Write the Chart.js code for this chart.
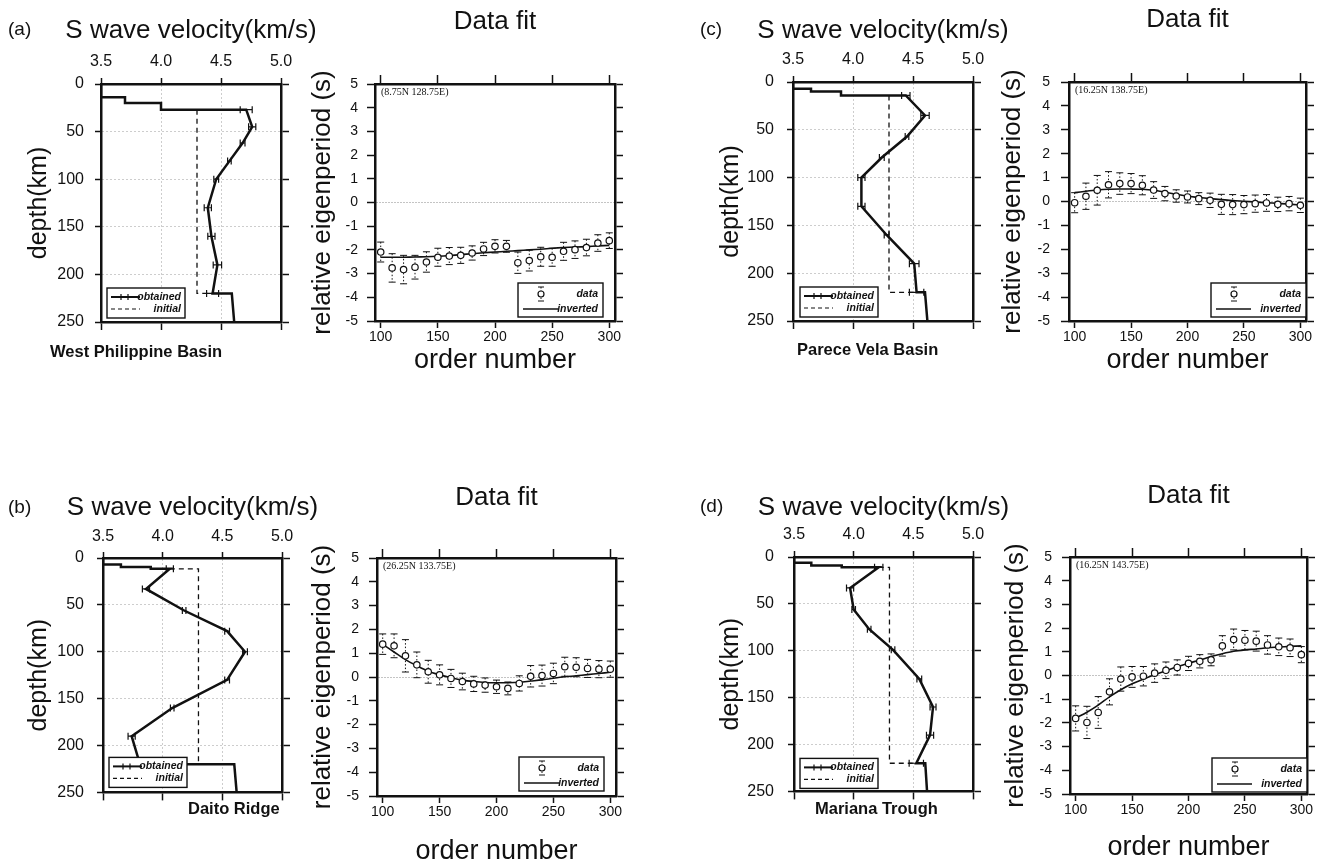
<!DOCTYPE html>
<html><head><meta charset="utf-8">
<script src="https://cdn.jsdelivr.net/npm/chart.js@4.4.1/dist/chart.umd.min.js"></script>
<style>
html,body{margin:0;padding:0;background:#fff;}
#wrap{position:relative;width:1329px;height:861px;overflow:hidden;background:#fff;font-family:"Liberation Sans",Arial,Helvetica,sans-serif;}
#wrap canvas{position:absolute;}
.lbl{position:absolute;white-space:nowrap;color:#111;}
</style></head><body><div id="wrap"></div>
<script>
// ================= DATA =================
const velTicks = [3.5, 4.0, 4.5, 5.0];
const depthTicks = [0, 50, 100, 150, 200, 250];
const orderTicks = [100, 150, 200, 250, 300];
const periodTicks = [-5, -4, -3, -2, -1, 0, 1, 2, 3, 4, 5];
const orderNumbers = [100,110,120,130,140,150,160,170,180,190,200,210,220,230,240,250,260,270,280,290,300];

// (a) West Philippine Basin
const aCrustDepth = [0, 14, 14, 20, 20, 27];
const aCrustVel   = [3.5, 3.5, 3.7, 3.7, 4.0, 4.0];
const aNodeDepth  = [27, 45, 62, 81, 100, 130, 160, 190, 220];
const aNodeVel    = [4.71, 4.76, 4.68, 4.57, 4.46, 4.39, 4.42, 4.47, 4.43];
const aNodeErr    = [0.05, 0.03, 0.02, 0.015, 0.02, 0.03, 0.03, 0.035, 0.05];
const aBaseDepth  = [220, 250];
const aBaseVel    = [4.59, 4.61];
const aInitDepth  = [27, 220, 220];
const aInitVel    = [4.3, 4.3, 4.43];
const aFitData = [-2.09,-2.76,-2.83,-2.73,-2.51,-2.31,-2.26,-2.23,-2.13,-1.96,-1.85,-1.85,-2.54,-2.45,-2.29,-2.31,-2.06,-1.99,-1.90,-1.71,-1.61];
const aFitErr  = [0.42,0.60,0.60,0.50,0.43,0.38,0.36,0.34,0.30,0.28,0.28,0.25,0.45,0.44,0.40,0.38,0.38,0.37,0.35,0.35,0.33];
const aFitInv  = [-2.31,-2.31,-2.31,-2.30,-2.29,-2.27,-2.24,-2.20,-2.16,-2.12,-2.09,-2.06,-2.03,-2.00,-1.97,-1.93,-1.90,-1.88,-1.86,-1.83,-1.81];

// (c) Parece Vela Basin
const cCrustDepth = [0, 7, 7, 10, 10, 14];
const cCrustVel   = [3.5, 3.5, 3.65, 3.65, 3.9, 3.9];
const cNodeDepth  = [14, 35, 57, 79, 100, 130, 160, 190, 220];
const cNodeVel    = [4.44, 4.60, 4.45, 4.24, 4.07, 4.07, 4.28, 4.51, 4.53];
const cNodeErr    = [0.035, 0.035, 0.015, 0.02, 0.03, 0.03, 0.02, 0.04, 0.06];
const cBaseDepth  = [220, 250];
const cBaseVel    = [4.60, 4.62];
const cInitDepth  = [14, 220, 220];
const cInitVel    = [4.3, 4.3, 4.53];
const cFitData = [-0.05,0.22,0.47,0.70,0.75,0.75,0.68,0.48,0.33,0.23,0.19,0.12,0.05,-0.12,-0.13,-0.13,-0.09,-0.06,-0.12,-0.09,-0.16];
const cFitErr  = [0.42,0.55,0.62,0.55,0.45,0.42,0.40,0.35,0.30,0.26,0.25,0.25,0.30,0.42,0.42,0.38,0.36,0.35,0.30,0.30,0.30];
const cFitInv  = [0.37,0.43,0.48,0.51,0.52,0.52,0.51,0.47,0.39,0.30,0.22,0.17,0.12,0.08,0.04,0.01,-0.02,-0.05,-0.08,-0.11,-0.15];

// (b) Daito Ridge
const bCrustDepth = [0, 7, 7, 9.5, 9.5, 11.5];
const bCrustVel   = [3.5, 3.5, 3.65, 3.65, 3.9, 3.9];
const bNodeDepth  = [11.5, 33, 56, 78, 100, 130, 160, 190, 220];
const bNodeVel    = [4.06, 3.86, 4.18, 4.54, 4.69, 4.54, 4.08, 3.74, 3.81];
const bNodeErr    = [0.03, 0.03, 0.015, 0.02, 0.02, 0.02, 0.015, 0.03, 0.03];
const bBaseDepth  = [220, 250];
const bBaseVel    = [4.60, 4.62];
const bInitDepth  = [11.5, 11.5, 220];
const bInitVel    = [4.06, 4.3, 4.3];
const bFitData = [1.38,1.31,0.89,0.51,0.22,0.09,-0.06,-0.19,-0.29,-0.34,-0.41,-0.48,-0.27,0.03,0.06,0.15,0.43,0.41,0.36,0.33,0.33];
const bFitErr  = [0.43,0.50,0.68,0.54,0.48,0.42,0.38,0.35,0.32,0.30,0.28,0.27,0.32,0.45,0.44,0.43,0.40,0.40,0.38,0.36,0.34];
const bFitInv  = [1.37,1.05,0.73,0.47,0.24,0.09,-0.03,-0.13,-0.19,-0.23,-0.24,-0.24,-0.22,-0.17,-0.12,-0.05,0.01,0.05,0.10,0.15,0.20];

// (d) Mariana Trough
const dCrustDepth = [0, 6, 6, 9, 9, 11];
const dCrustVel   = [3.5, 3.5, 3.645, 3.645, 3.9, 3.9];
const dNodeDepth  = [11, 33, 56, 77, 99, 130, 160, 190, 220];
const dNodeVel    = [4.21, 3.97, 4.00, 4.13, 4.33, 4.55, 4.665, 4.64, 4.525];
const dNodeErr    = [0.035, 0.03, 0.015, 0.015, 0.015, 0.02, 0.025, 0.03, 0.06];
const dBaseDepth  = [220, 250];
const dBaseVel    = [4.60, 4.615];
const dInitDepth  = [11, 11, 220, 220];
const dInitVel    = [4.21, 4.3, 4.3, 4.525];
const dFitData = [-1.81,-1.98,-1.56,-0.69,-0.15,-0.06,-0.03,0.10,0.22,0.34,0.51,0.60,0.66,1.25,1.52,1.49,1.45,1.29,1.21,1.17,0.88];
const dFitErr  = [0.53,0.68,0.67,0.55,0.51,0.44,0.41,0.39,0.35,0.32,0.30,0.28,0.25,0.43,0.44,0.41,0.42,0.39,0.37,0.37,0.34];
const dFitInv  = [-1.80,-1.55,-1.25,-0.90,-0.60,-0.35,-0.15,0.03,0.20,0.37,0.52,0.65,0.80,0.92,1.02,1.08,1.12,1.17,1.20,1.23,1.25];

// ================= RENDERING =================
const FONT = '"Liberation Sans", Arial, Helvetica, sans-serif';
const SERIF = '"Liberation Serif", "Times New Roman", serif';
const INK = '#111';
const GRID = '#9a9a9a';
const NONE = 'rgba(0,0,0,0)';
const wrap = document.getElementById('wrap');

function mkCanvas(b) {
  const c = document.createElement('canvas');
  c.width = b.w; c.height = b.h;
  c.style.left = b.left + 'px'; c.style.top = b.top + 'px';
  c.style.width = b.w + 'px'; c.style.height = b.h + 'px';
  wrap.appendChild(c);
  return c;
}
function label(text, left, cy, size, extra) {
  const d = document.createElement('div');
  d.className = 'lbl';
  d.textContent = text;
  d.style.fontSize = size + 'px';
  d.style.lineHeight = Math.round(size * 1.2) + 'px';
  d.style.left = left + 'px';
  d.style.top = (cy - Math.round(size * 1.2) / 2) + 'px';
  if (extra) Object.assign(d.style, extra);
  wrap.appendChild(d);
}
const pts = (xs, ys) => xs.map((v, i) => ({x: v, y: ys[i]}));
const setTicks = arr => s => { s.ticks = arr.map(v => ({value: v})); };

function velocityPanel(p) {
  const A = p.area;
  // canvas symmetric around the plot centre so the (full-width) title is centred on the plot
  const cv = {left: p.left, top: p.top, w: 2 * ((A.L + A.R) / 2 - p.left), h: p.h};
  const titlePadTop = p.titleY - cv.top - 15.6;
  const titleH = 31.2 + titlePadTop;
  const topH = A.T - cv.top - titleH, botH = cv.top + cv.h - A.B;
  const leftW = A.L - cv.left, rightW = cv.left + cv.w - A.R;
  const obtained = pts(p.crustVel, p.crustDepth)
    .concat(pts(p.nodeVel, p.nodeDepth))
    .concat(pts(p.baseVel, p.baseDepth));
  const extras = {
    id: 'velExtras',
    afterDatasetsDraw(chart) {
      const {ctx, chartArea: ca, scales: {x, y}} = chart;
      ctx.save();
      ctx.strokeStyle = INK; ctx.lineWidth = 1.2;
      p.nodeDepth.forEach((d, i) => {
        const py = y.getPixelForValue(d);
        const x1 = x.getPixelForValue(p.nodeVel[i] - p.nodeErr[i]);
        const x2 = x.getPixelForValue(p.nodeVel[i] + p.nodeErr[i]);
        ctx.beginPath();
        ctx.moveTo(x1, py); ctx.lineTo(x2, py);
        ctx.moveTo(x1, py - 3.5); ctx.lineTo(x1, py + 3.5);
        ctx.moveTo(x2, py - 3.5); ctx.lineTo(x2, py + 3.5);
        ctx.stroke();
      });
      // legend box
      const W = 78, H = 30;
      const L = ca.left + p.leg.dx, T = ca.bottom - p.leg.dy - H;
      ctx.fillStyle = '#fff'; ctx.fillRect(L, T, W, H);
      ctx.lineWidth = 1.4; ctx.strokeRect(L, T, W, H);
      const r1 = T + 9, r2 = T + 21;
      ctx.lineWidth = 2; ctx.beginPath(); ctx.moveTo(L + 4, r1); ctx.lineTo(L + 33, r1); ctx.stroke();
      ctx.lineWidth = 1.2; ctx.beginPath();
      ctx.moveTo(L + 14, r1 - 3); ctx.lineTo(L + 14, r1 + 3);
      ctx.moveTo(L + 21, r1 - 3); ctx.lineTo(L + 21, r1 + 3); ctx.stroke();
      ctx.setLineDash([4, 3]); ctx.beginPath(); ctx.moveTo(L + 4, r2); ctx.lineTo(L + 33, r2); ctx.stroke();
      ctx.setLineDash([]);
      ctx.fillStyle = INK; ctx.font = 'italic bold 10.5px ' + FONT;
      ctx.textAlign = 'right'; ctx.textBaseline = 'middle';
      ctx.fillText(chart.data.datasets[0].label, L + W - 4, r1);
      ctx.fillText(chart.data.datasets[1].label, L + W - 4, r2);
      ctx.restore();
    }
  };
  new Chart(mkCanvas(cv), {
    type: 'scatter',
    data: {datasets: [
      {label: 'obtained', data: obtained, showLine: true, pointRadius: 0, borderColor: INK, borderWidth: 2.5, tension: 0},
      {label: 'initial', data: pts(p.initVel, p.initDepth), showLine: true, pointRadius: 0, borderColor: INK, borderWidth: 1.3, borderDash: [5, 4]}
    ]},
    options: {
      responsive: false, animation: false, devicePixelRatio: 1, events: [],
      layout: {padding: 0},
      plugins: {
        legend: {display: false}, tooltip: {enabled: false},
        title: {display: true, text: 'S wave velocity(km/s)', fullSize: true, color: INK,
                font: {family: FONT, size: 26, weight: 'normal', lineHeight: 1.2},
                padding: {top: titlePadTop, bottom: 0}}
      },
      scales: {
        x: {
          type: 'linear', position: 'top', min: 3.5, max: 5.0,
          afterBuildTicks: setTicks(velTicks), afterFit: s => { s.height = topH; },
          ticks: {font: {family: FONT, size: 16}, color: INK, padding: Math.max(0, A.T - p.tickY - 6 - 9.6),
                  callback: v => Number(v).toFixed(1), autoSkip: false, maxRotation: 0},
          grid: {color: c => (c.tick && c.tick.value > 3.5 && c.tick.value < 5.0) ? GRID : NONE,
                 lineWidth: 1, tickColor: INK, tickLength: 6, tickWidth: 1.5},
          border: {display: true, color: INK, width: 2.5, dash: [1, 3]}
        },
        x2: {
          type: 'linear', position: 'bottom', min: 3.5, max: 5.0,
          afterBuildTicks: setTicks(velTicks), afterFit: s => { s.height = botH; },
          ticks: {display: false},
          grid: {drawOnChartArea: false, tickColor: INK, tickLength: 8, tickWidth: 1.5},
          border: {display: true, color: INK, width: 2.5}
        },
        y: {
          type: 'linear', position: 'left', reverse: true, min: 0, max: 250,
          afterBuildTicks: setTicks(depthTicks), afterFit: s => { s.width = leftW; },
          ticks: {font: {family: FONT, size: 16}, color: INK, padding: A.L - p.yLabR - 6, autoSkip: false},
          grid: {color: c => (c.tick && c.tick.value > 0 && c.tick.value < 250) ? GRID : NONE,
                 lineWidth: 1, tickColor: INK, tickLength: 6, tickWidth: 1.5},
          border: {display: true, color: INK, width: 2.5, dash: [1, 3]},
          title: {display: true, text: 'depth(km)', color: INK,
                  font: {family: FONT, size: 25, lineHeight: 1.2},
                  padding: {top: p.yTitleX - cv.left - 15, bottom: 0}}
        },
        y2: {
          type: 'linear', position: 'right', reverse: true, min: 0, max: 250,
          afterBuildTicks: setTicks(depthTicks), afterFit: s => { s.width = rightW; },
          ticks: {display: false},
          grid: {drawOnChartArea: false, tickColor: INK, tickLength: 8, tickWidth: 1.5},
          border: {display: true, color: INK, width: 2.5}
        }
      }
    },
    plugins: [extras]
  });
}

function fitPanel(p) {
  const cv = p.canvas, A = p.area;
  const titlePadTop = p.titleY - cv.top - 15.6;
  const titleH = 31.2 + titlePadTop;
  const topH = A.T - cv.top - titleH, botH = cv.top + cv.h - A.B;
  const leftW = A.L - cv.left, rightW = cv.left + cv.w - A.R;
  const extras = {
    id: 'fitExtras',
    beforeDatasetsDraw(chart) {
      const {ctx, scales: {x, y}} = chart;
      ctx.save();
      ctx.strokeStyle = INK; ctx.lineWidth = 1;
      orderNumbers.forEach((n, i) => {
        const px = x.getPixelForValue(n);
        const p1 = y.getPixelForValue(p.data[i] + p.err[i]);
        const p2 = y.getPixelForValue(p.data[i] - p.err[i]);
        ctx.setLineDash([1.5, 2]);
        ctx.beginPath(); ctx.moveTo(px, p1); ctx.lineTo(px, p2); ctx.stroke();
        ctx.setLineDash([]);
        ctx.beginPath();
        ctx.moveTo(px - 3.5, p1); ctx.lineTo(px + 3.5, p1);
        ctx.moveTo(px - 3.5, p2); ctx.lineTo(px + 3.5, p2);
        ctx.stroke();
      });
      ctx.restore();
    },
    afterDatasetsDraw(chart) {
      const {ctx, chartArea: ca} = chart;
      ctx.save();
      // location text
      ctx.fillStyle = INK; ctx.font = '10px ' + SERIF;
      ctx.textAlign = 'left'; ctx.textBaseline = 'middle';
      ctx.fillText(p.loc, ca.left + 6, ca.top + 8);
      // legend
      const W = p.leg.w, H = 34;
      const R = ca.right - p.leg.dr, T = ca.bottom - p.leg.db - H, L = R - W;
      ctx.fillStyle = '#fff'; ctx.fillRect(L, T, W, H);
      ctx.strokeStyle = INK; ctx.lineWidth = 1.4; ctx.strokeRect(L, T, W, H);
      const r1 = T + 11, r2 = T + 26, cx = L + 23;
      ctx.lineWidth = 1; ctx.setLineDash([1.5, 2]);
      ctx.beginPath(); ctx.moveTo(cx, r1 - 7); ctx.lineTo(cx, r1 + 7); ctx.stroke();
      ctx.setLineDash([]);
      ctx.beginPath(); ctx.moveTo(cx - 3, r1 - 7); ctx.lineTo(cx + 3, r1 - 7);
      ctx.moveTo(cx - 3, r1 + 7); ctx.lineTo(cx + 3, r1 + 7); ctx.stroke();
      ctx.fillStyle = '#fff'; ctx.lineWidth = 1.2;
      ctx.beginPath(); ctx.arc(cx, r1, 3, 0, Math.PI * 2); ctx.fill(); ctx.stroke();
      ctx.lineWidth = 1.4; ctx.beginPath(); ctx.moveTo(L + 5, r2); ctx.lineTo(L + 40, r2); ctx.stroke();
      ctx.fillStyle = INK; ctx.font = 'italic bold 10.5px ' + FONT;
      ctx.textAlign = 'right';
      ctx.fillText(chart.data.datasets[0].label, R - 5, r1);
      ctx.fillText(chart.data.datasets[1].label, R - 5, r2);
      ctx.restore();
    }
  };
  new Chart(mkCanvas(cv), {
    type: 'scatter',
    data: {datasets: [
      {label: 'data', data: pts(orderNumbers, p.data), showLine: false, pointRadius: 3.2, pointBorderWidth: 1.2,
       pointBackgroundColor: '#fff', pointBorderColor: INK},
      {label: 'inverted', data: pts(orderNumbers, p.inv), showLine: true, pointRadius: 0, borderColor: INK, borderWidth: 1.6, tension: 0.3}
    ]},
    options: {
      responsive: false, animation: false, devicePixelRatio: 1, events: [],
      layout: {padding: 0},
      plugins: {
        legend: {display: false}, tooltip: {enabled: false},
        title: {display: true, text: 'Data fit', fullSize: false, color: INK,
                font: {family: FONT, size: 26, weight: 'normal', lineHeight: 1.2},
                padding: {top: titlePadTop, bottom: 0}}
      },
      scales: {
        x: {
          type: 'linear', position: 'bottom', min: 95, max: 305,
          afterBuildTicks: setTicks(orderTicks), afterFit: s => { s.height = botH; },
          ticks: {font: {family: FONT, size: 14}, color: INK, padding: Math.max(0, p.xLabY - A.B - 7 - 8.4), autoSkip: false, maxRotation: 0},
          grid: {color: NONE, tickColor: INK, tickLength: 7, tickWidth: 1.5},
          border: {display: true, color: INK, width: 2.5},
          title: {display: true, text: 'order number', color: INK,
                  font: {family: FONT, size: 27, lineHeight: 1.2},
                  padding: {top: 0, bottom: cv.top + cv.h - p.xTitleY - 16.2}}
        },
        x2: {
          type: 'linear', position: 'top', min: 95, max: 305,
          afterBuildTicks: setTicks(orderTicks), afterFit: s => { s.height = topH; },
          ticks: {display: false},
          grid: {drawOnChartArea: false, tickColor: INK, tickLength: 9, tickWidth: 1.5},
          border: {display: true, color: INK, width: 2.5}
        },
        y: {
          type: 'linear', position: 'left', min: -5, max: 5,
          afterBuildTicks: setTicks(periodTicks), afterFit: s => { s.width = leftW; },
          ticks: {font: {family: FONT, size: 14}, color: INK, padding: A.L - p.yLabR - 8, autoSkip: false},
          grid: {color: c => (c.tick && c.tick.value === 0) ? '#888' : NONE, lineWidth: 1,
                 tickColor: INK, tickLength: 8, tickWidth: 1.5},
          border: {display: true, color: INK, width: 2.5, dash: [1, 2]},
          title: {display: true, text: 'relative eigenperiod (s)', color: INK,
                  font: {family: FONT, size: 26, lineHeight: 1.2},
                  padding: {top: p.yTitleX - cv.left - 15.6, bottom: 0}}
        },
        y2: {
          type: 'linear', position: 'right', min: -5, max: 5,
          afterBuildTicks: setTicks(periodTicks), afterFit: s => { s.width = rightW; },
          ticks: {display: false},
          grid: {drawOnChartArea: false, tickColor: INK, tickLength: 8, tickWidth: 1.5},
          border: {display: true, color: INK, width: 2.5}
        }
      }
    },
    plugins: [extras]
  });
}

// ---- velocity panels ----
velocityPanel({left: 0, top: 0, h: 345, area: {L: 101, T: 84, R: 281, B: 322},
  titleY: 31, tickY: 61.5, yTitleX: 39, yLabR: 84, leg: {dx: 6, dy: 4},
  crustDepth: aCrustDepth, crustVel: aCrustVel, nodeDepth: aNodeDepth, nodeVel: aNodeVel, nodeErr: aNodeErr,
  baseDepth: aBaseDepth, baseVel: aBaseVel, initDepth: aInitDepth, initVel: aInitVel});
velocityPanel({left: 690, top: 0, h: 345, area: {L: 793, T: 82, R: 973, B: 321},
  titleY: 31, tickY: 60, yTitleX: 731, yLabR: 774, leg: {dx: 7, dy: 4},
  crustDepth: cCrustDepth, crustVel: cCrustVel, nodeDepth: cNodeDepth, nodeVel: cNodeVel, nodeErr: cNodeErr,
  baseDepth: cBaseDepth, baseVel: cBaseVel, initDepth: cInitDepth, initVel: cInitVel});
velocityPanel({left: 0, top: 470, h: 345, area: {L: 103, T: 558, R: 282, B: 797},
  titleY: 508, tickY: 537, yTitleX: 39, yLabR: 84, leg: {dx: 6, dy: 5},
  crustDepth: bCrustDepth, crustVel: bCrustVel, nodeDepth: bNodeDepth, nodeVel: bNodeVel, nodeErr: bNodeErr,
  baseDepth: bBaseDepth, baseVel: bBaseVel, initDepth: bInitDepth, initVel: bInitVel});
velocityPanel({left: 690, top: 470, h: 345, area: {L: 794, T: 557, R: 973, B: 796},
  titleY: 508, tickY: 535, yTitleX: 731, yLabR: 774, leg: {dx: 6, dy: 3},
  crustDepth: dCrustDepth, crustVel: dCrustVel, nodeDepth: dNodeDepth, nodeVel: dNodeVel, nodeErr: dNodeErr,
  baseDepth: dBaseDepth, baseVel: dBaseVel, initDepth: dInitDepth, initVel: dInitVel});

// ---- data fit panels ----
fitPanel({canvas: {left: 300, top: 0, w: 340, h: 395}, area: {L: 375, T: 84, R: 615, B: 321},
  titleY: 22, yTitleX: 323, yLabR: 358, xLabY: 337, xTitleY: 361, loc: '(8.75N 128.75E)',
  leg: {w: 85, dr: 12, db: 4}, data: aFitData, err: aFitErr, inv: aFitInv});
fitPanel({canvas: {left: 990, top: 0, w: 339, h: 395}, area: {L: 1069, T: 82, R: 1306, B: 321},
  titleY: 20, yTitleX: 1013, yLabR: 1050, xLabY: 337, xTitleY: 361, loc: '(16.25N 138.75E)',
  leg: {w: 95, dr: 0, db: 4}, data: cFitData, err: cFitErr, inv: cFitInv});
fitPanel({canvas: {left: 300, top: 470, w: 340, h: 415}, area: {L: 377, T: 558, R: 616, B: 796},
  titleY: 498, yTitleX: 323, yLabR: 359, xLabY: 812, xTitleY: 852, loc: '(26.25N 133.75E)',
  leg: {w: 85, dr: 12, db: 5}, data: bFitData, err: bFitErr, inv: bFitInv});
fitPanel({canvas: {left: 990, top: 470, w: 339, h: 415}, area: {L: 1070, T: 557, R: 1307, B: 794},
  titleY: 496, yTitleX: 1016, yLabR: 1052, xLabY: 810, xTitleY: 848, loc: '(16.25N 143.75E)',
  leg: {w: 95, dr: 0, db: 2}, data: dFitData, err: dFitErr, inv: dFitInv});

// ---- panel letters & region names ----
label('(a)', 8, 28, 19);
label('(c)', 700, 28, 19);
label('(b)', 8, 506, 19);
label('(d)', 700, 505, 19);
label('West Philippine Basin', 50, 351, 16.5, {fontWeight: 'bold'});
label('Parece Vela Basin', 797, 349, 16.5, {fontWeight: 'bold'});
label('Daito Ridge', 188, 808, 16.5, {fontWeight: 'bold'});
label('Mariana Trough', 815, 808, 16.5, {fontWeight: 'bold'});
</script>
</body></html>
